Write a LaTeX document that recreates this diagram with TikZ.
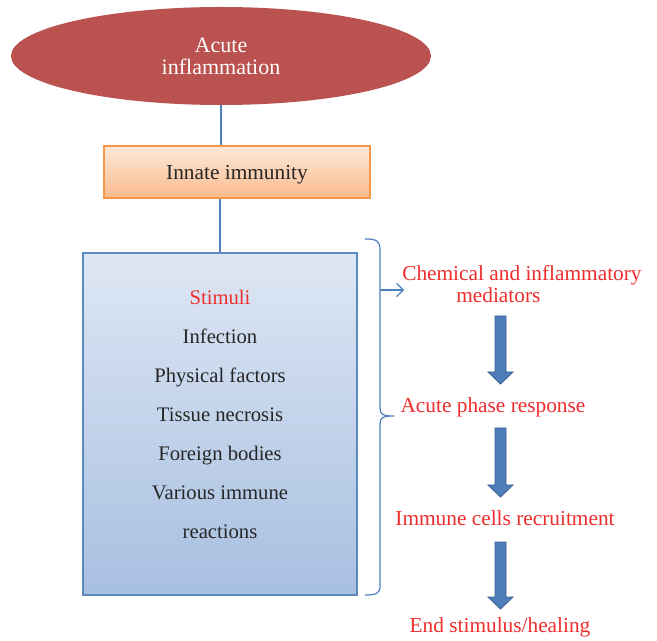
\documentclass[tikz,border=0pt]{standalone}
\usepackage{fontspec}
\setmainfont{Liberation Serif}
\usetikzlibrary{calc,shapes,arrows.meta}

\definecolor{inflamred}{RGB}{186,82,79}
\definecolor{linkblue}{RGB}{79,129,189}
\definecolor{arrowblue}{RGB}{79,125,185}
\definecolor{arrowedge}{RGB}{58,98,150}
\definecolor{stepred}{RGB}{238,45,45}
\definecolor{textgray}{RGB}{38,38,38}
\definecolor{orangetop}{RGB}{253,233,217}
\definecolor{orangebot}{RGB}{249,186,140}
\definecolor{orangeedge}{RGB}{247,150,70}
\definecolor{bluetop}{RGB}{222,231,244}
\definecolor{bluebot}{RGB}{167,191,225}
\definecolor{blueedge}{RGB}{95,135,192}

\tikzset{
  link/.style={draw=linkblue, line width=0.9pt},
  redlabel/.style={text=stepred, inner sep=0pt,
    font=\fontsize{16}{16.5}\selectfont},
  blockarrow/.style={fill=arrowblue, draw=arrowedge, line width=0.6pt}
}

\begin{document}
\begin{tikzpicture}[x=0.75pt,y=-0.75pt]
  \useasboundingbox[fill=white] (0,0) rectangle (657,641);

  % left column
  \node[ellipse, fill=inflamred, text=white, inner sep=0pt,
    minimum width=315pt, minimum height=73.5pt, align=center,
    font=\fontsize{16.5}{16.5}\selectfont] (acute) at (221,56)
    {Acute\\inflammation};
  \node[draw=orangeedge, line width=1pt, top color=orangetop,
    bottom color=orangebot, minimum width=199.5pt, minimum height=39pt,
    text depth=0pt, text=textgray, font=\fontsize{16}{18}\selectfont]
    (innate) at (237,172) {Innate immunity};
  \node[draw=blueedge, line width=1.1pt, top color=bluetop,
    bottom color=bluebot, minimum width=205.5pt,
    minimum height=256.5pt] (stimuli) at (220,424) {};
  \node[align=center, text=textgray, inner sep=0pt,
    font=\fontsize{15.5}{29.25}\selectfont] (stimlist) at (220,414)
    {\textcolor{stepred}{Stimuli}\\Infection\\Physical factors\\
     Tissue necrosis\\Foreign bodies\\Various immune\\reactions};

  \draw[link] (acute.south) -- (acute.south |- innate.north);
  \draw[link] (innate.south -| stimuli.north) -- (stimuli.north);

  % brace and right column
  \draw[link] (365,239) .. controls (377,239) and (380,241) .. (380,250)
    -- (380,408) .. controls (380,414) and (382,416) .. (394,416)
    .. controls (382,416) and (380,418) .. (380,424)
    -- (380,586) .. controls (380,593) and (377,595) .. (365,595);
  \coordinate (bracemid) at (380,290);
  \coordinate (chemin) at (404,290);
  \draw[link, -{Straight Barb[length=5pt,width=10pt]}] (bracemid) -- (chemin);

  \node[redlabel, anchor=west, align=left] (chem) at (402,284)
    {Chemical and inflammatory\\\hspace*{40.5pt}mediators};
  \node[redlabel] (phase) at (493,407) {Acute phase response};
  \node[redlabel] (recruit) at (505,518) {Immune cells recruitment};
  \node[redlabel] (healing) at (500,627) {End stimulus/healing};

  \foreach \top/\tip in {316/384,428/497,542/609}
    \draw[blockarrow] (495,\top) -- (506,\top) -- (506,\tip-12)
      -- (513,\tip-12) -- (500.5,\tip) -- (488,\tip-12)
      -- (495,\tip-12) -- cycle;
\end{tikzpicture}
\end{document}
